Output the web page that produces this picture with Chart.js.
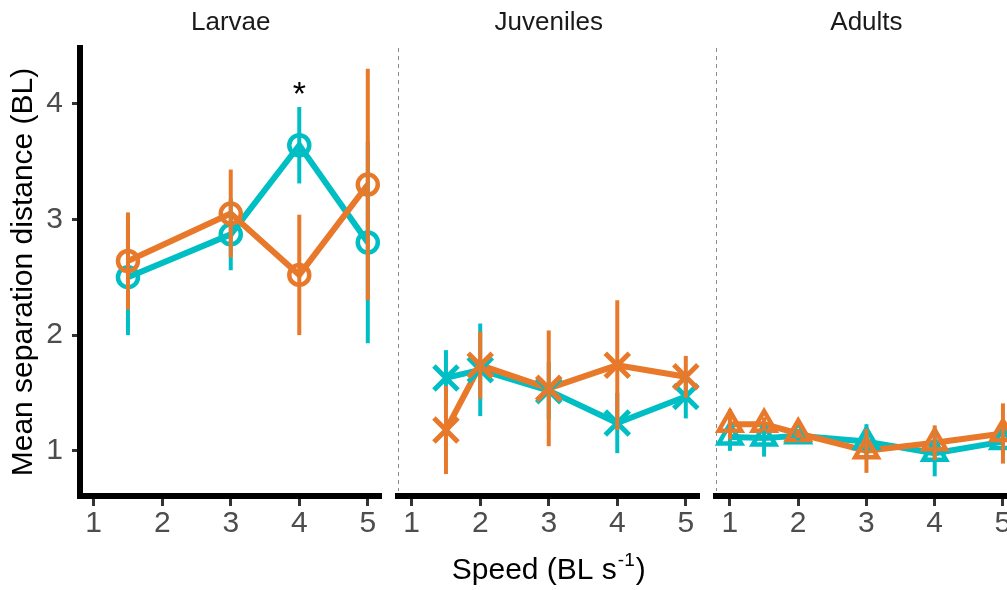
<!DOCTYPE html>
<html><head><meta charset="utf-8">
<script src="https://cdn.jsdelivr.net/npm/chart.js@4.4.1/dist/chart.umd.min.js"></script>
<style>
html,body{margin:0;padding:0;background:#fff;overflow:hidden;}
#wrap{position:relative;width:1007px;height:590px;overflow:hidden;background:#fff;}
canvas{position:absolute;top:0;}
</style></head><body>
<div id="wrap">
<canvas id="c1" width="390" height="590" style="left:0px"></canvas>
<canvas id="c2" width="318" height="590" style="left:390px"></canvas>
<canvas id="c3" width="318" height="590" style="left:708px"></canvas>
</div>
<script>
// ---------------- data ----------------
const panelTitles = ['Larvae', 'Juveniles', 'Adults'];
const speedTicks = [1, 2, 3, 4, 5];
const distanceTicks = [1, 2, 3, 4];
const yAxisTitle = 'Mean separation distance (BL)';
const xAxisTitle = ['Speed (BL s', '-1', ')'];

const larvaeSpeed = [1.5, 3, 4, 5];
const larvaeTealMean = [2.50, 2.87, 3.64, 2.80];
const larvaeTealSE = [0.50, 0.31, 0.33, 0.87];
const larvaeOrangeMean = [2.64, 3.05, 2.52, 3.30];
const larvaeOrangeSE = [0.42, 0.38, 0.52, 1.00];

const juvenileSpeed = [1.5, 2, 3, 4, 5];
const juvenileTealMean = [1.63, 1.70, 1.52, 1.24, 1.47];
const juvenileTealSE = [0.24, 0.40, 0.25, 0.26, 0.19];
const juvenileOrangeMean = [1.18, 1.74, 1.54, 1.74, 1.64];
const juvenileOrangeSE = [0.38, 0.29, 0.50, 0.56, 0.18];

const adultSpeed = [1, 1.5, 2, 3, 4, 5];
const adultTealMean = [1.12, 1.11, 1.13, 1.08, 0.98, 1.08];
const adultTealSE = [0.12, 0.16, 0.04, 0.15, 0.20, 0.10];
const adultOrangeMean = [1.23, 1.23, 1.15, 1.00, 1.07, 1.15];
const adultOrangeSE = [0.13, 0.06, 0.04, 0.19, 0.15, 0.26];

// significance marker (Larvae panel)
const sigSpeed = [4];
const sigLevel = [3.99];
const sigLabel = ['*'];

// ---------------- style ----------------
const FONT = "'Liberation Sans', Arial, Helvetica, sans-serif";
const TEAL = '#00BFC4';
const ORANGE = '#E8792B';
Chart.defaults.font.family = FONT;

function pts(xs, ys) { return xs.map((x, i) => ({ x: x, y: ys[i] })); }
function errBars(xs, m, se, color, order) {
  return xs.map((x, i) => ({
    data: [{ x: x, y: m[i] - se[i] }, { x: x, y: m[i] + se[i] }],
    showLine: true, borderColor: color, borderWidth: 4, pointRadius: 0,
    borderCapStyle: 'butt', order: order, clip: false
  }));
}

const decor = {
  id: 'decor',
  beforeDatasetsDraw(chart) {
    const o = chart.options.plugins.decor;
    const ctx = chart.ctx, ca = chart.chartArea;
    if (o.dashed) {
      ctx.save();
      ctx.strokeStyle = '#8a8a8a'; ctx.lineWidth = 1; ctx.setLineDash([4, 4]);
      ctx.beginPath(); ctx.moveTo(Math.round(ca.left) + 0.5, ca.top); ctx.lineTo(Math.round(ca.left) + 0.5, ca.bottom - 5); ctx.stroke();
      ctx.restore();
    }
  },
  afterDraw(chart) {
    const o = chart.options.plugins.decor;
    const ctx = chart.ctx, ca = chart.chartArea;
    ctx.save();
    ctx.fillStyle = '#1a1a1a'; ctx.font = '26px ' + FONT;
    ctx.textAlign = 'center'; ctx.textBaseline = 'middle';
    ctx.fillText(o.title, (ca.left + ca.right) / 2, 23);
    if (o.sig) {
      const xs = chart.scales.x, ys = chart.scales.y;
      ctx.fillStyle = '#000'; ctx.font = '34px ' + FONT; ctx.textBaseline = 'alphabetic';
      sigSpeed.forEach((s, i) => ctx.fillText(sigLabel[i], xs.getPixelForValue(s), ys.getPixelForValue(sigLevel[i])));
    }
    if (o.xTitle) {
      const cx = (ca.left + ca.right) / 2, base = 579;
      ctx.fillStyle = '#000'; ctx.textAlign = 'left'; ctx.textBaseline = 'alphabetic';
      ctx.font = '30px ' + FONT; const w1 = ctx.measureText(xAxisTitle[0]).width; const w3 = ctx.measureText(xAxisTitle[2]).width;
      ctx.font = '19px ' + FONT; const w2 = ctx.measureText(xAxisTitle[1]).width;
      let x = cx - (w1 + w2 + w3 + 2) / 2;
      ctx.font = '30px ' + FONT; ctx.fillText(xAxisTitle[0], x, base); x += w1 + 1;
      ctx.font = '19px ' + FONT; ctx.fillText(xAxisTitle[1], x, base - 13); x += w2 + 1;
      ctx.font = '30px ' + FONT; ctx.fillText(xAxisTitle[2], x, base);
    }
    ctx.restore();
  }
};

function makePanel(id, idx, speed, tm, tse, om, ose, marker, opt) {
  const datasets = [
    { data: pts(speed, tm), showLine: true, borderColor: TEAL, borderWidth: 6, pointRadius: 0, borderJoinStyle: 'round', order: 60 },
    { data: pts(speed, om), showLine: true, borderColor: ORANGE, borderWidth: 6, pointRadius: 0, borderJoinStyle: 'round', order: 50 },
    { data: pts(speed, tm), showLine: false, pointStyle: marker.style, pointRadius: marker.r, borderWidth: marker.w,
      pointBorderColor: TEAL, pointBackgroundColor: 'rgba(0,0,0,0)', pointBorderWidth: marker.w, order: 40, clip: false },
    { data: pts(speed, om), showLine: false, pointStyle: marker.style, pointRadius: marker.r, borderWidth: marker.w,
      pointBorderColor: ORANGE, pointBackgroundColor: 'rgba(0,0,0,0)', pointBorderWidth: marker.w, order: 30, clip: false }
  ].concat(errBars(speed, tm, tse, TEAL, 20), errBars(speed, om, ose, ORANGE, 10));

  const yScale = opt.yAxis ? {
    type: 'linear', position: 'left', min: 0.61, max: 4.48,
    afterBuildTicks: s => { s.ticks = distanceTicks.map(v => ({ value: v })); },
    afterFit: s => { s.width = opt.left; s.paddingTop = 0; s.paddingBottom = 0; },
    ticks: { color: '#4d4d4d', font: { size: 30 }, padding: 9 },
    grid: { drawOnChartArea: false, drawTicks: true, tickLength: 8, tickWidth: 3, tickColor: '#333' },
    border: { display: true, color: '#000', width: 6 },
    title: { display: true, text: yAxisTitle, color: '#000', font: { size: 30 }, padding: { top: 6, bottom: 0 } }
  } : { type: 'linear', display: false, min: 0.61, max: 4.48 };

  return new Chart(document.getElementById(id), {
    type: 'scatter',
    data: { datasets: datasets },
    options: {
      responsive: false, animation: false, events: [],
      layout: { autoPadding: false, padding: { top: 48, right: opt.right, bottom: 0, left: opt.yAxis ? 0 : opt.left } },
      scales: {
        x: {
          type: 'linear', position: 'bottom', min: 0.8, max: 5.2,
          afterBuildTicks: s => { s.ticks = speedTicks.map(v => ({ value: v })); },
          afterFit: s => { s.height = 94; s.paddingLeft = 0; s.paddingRight = 0; },
          ticks: { color: '#4d4d4d', font: { size: 30 }, padding: 0, maxRotation: 0, autoSkip: false },
          grid: { drawOnChartArea: false, drawTicks: true, tickLength: 10, tickWidth: 3, tickColor: '#333' },
          border: { display: true, color: '#000', width: 6 }
        },
        y: yScale
      },
      plugins: {
        legend: { display: false }, tooltip: { enabled: false }, title: { display: false },
        decor: { title: panelTitles[idx], dashed: !opt.yAxis, sig: !!opt.sig, xTitle: !!opt.xTitle }
      }
    },
    plugins: [decor]
  });
}

makePanel('c1', 0, larvaeSpeed, larvaeTealMean, larvaeTealSE, larvaeOrangeMean, larvaeOrangeSE,
  { style: 'circle', r: 10, w: 4.5 }, { yAxis: true, left: 80, right: 8.5, sig: true });
makePanel('c2', 1, juvenileSpeed, juvenileTealMean, juvenileTealSE, juvenileOrangeMean, juvenileOrangeSE,
  { style: 'crossRot', r: 17, w: 5 }, { yAxis: false, left: 8, right: 8.5, xTitle: true });
makePanel('c3', 2, adultSpeed, adultTealMean, adultTealSE, adultOrangeMean, adultOrangeSE,
  { style: 'triangle', r: 13, w: 4.5 }, { yAxis: false, left: 8.3, right: 9.4 });
</script>
</body></html>
